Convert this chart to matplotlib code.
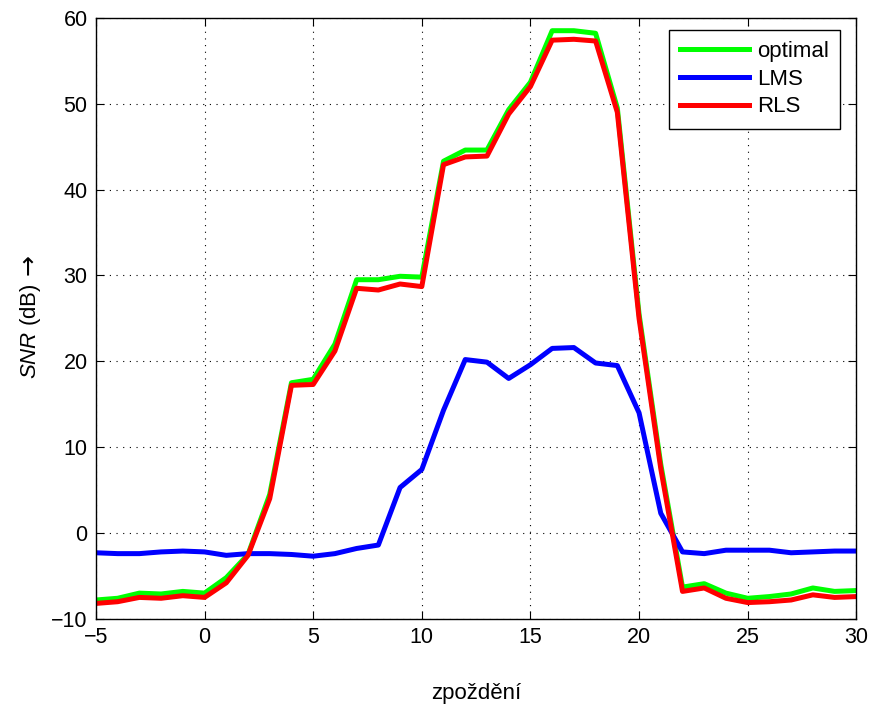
import matplotlib
matplotlib.use("Agg")
import matplotlib.pyplot as plt

delay = list(range(-5, 31))

snr_optimal = [-7.8, -7.6, -7.0, -7.1, -6.8, -7.0, -5.2, -2.5, 4.5, 17.5,
               17.9, 22.0, 29.5, 29.5, 29.9, 29.8, 43.3, 44.6, 44.6, 49.3,
               52.5, 58.5, 58.5, 58.2, 49.5, 25.5, 8.0, -6.3, -5.9, -7.0,
               -7.6, -7.4, -7.1, -6.4, -6.8, -6.7]
snr_lms = [-2.3, -2.4, -2.4, -2.2, -2.1, -2.2, -2.6, -2.4, -2.4, -2.5,
           -2.7, -2.4, -1.8, -1.4, 5.3, 7.4, 14.3, 20.2, 19.9, 18.0,
           19.6, 21.5, 21.6, 19.8, 19.5, 14.0, 2.3, -2.2, -2.4, -2.0,
           -2.0, -2.0, -2.3, -2.2, -2.1, -2.1]
snr_rls = [-8.2, -8.0, -7.5, -7.6, -7.3, -7.5, -5.8, -2.6, 4.0, 17.2,
           17.3, 21.2, 28.5, 28.3, 29.0, 28.7, 42.9, 43.8, 43.9, 48.8,
           52.0, 57.4, 57.5, 57.3, 49.0, 25.0, 7.5, -6.8, -6.4, -7.6,
           -8.1, -8.0, -7.8, -7.2, -7.5, -7.4]

plt.rcParams["font.family"] = ["Liberation Sans", "DejaVu Sans"]
plt.rcParams["mathtext.fontset"] = "custom"
plt.rcParams["mathtext.it"] = "Liberation Sans:italic"
plt.rcParams["mathtext.rm"] = "Liberation Sans"

fig = plt.figure(figsize=(8.72, 7.13), dpi=100)
ax = fig.add_axes([0.110, 0.132, 0.872, 0.843])

ax.plot(delay, snr_optimal, color="#00ff00", lw=3.6, label="optimal")
ax.plot(delay, snr_lms, color="#0000ff", lw=3.6, label="LMS")
ax.plot(delay, snr_rls, color="#ff0000", lw=3.6, label="RLS")

ax.set_xlim(-5, 30)
ax.set_ylim(-10, 60)
ax.set_xticks(range(-5, 31, 5))
ax.set_yticks(range(-10, 61, 10))
ax.grid(True, color="black", linestyle=(0, (1, 5)), linewidth=0.8)
ax.tick_params(direction="in", top=True, right=True, labelsize=15.5, length=6, pad=6)
for s in ax.spines.values():
    s.set_linewidth(1.0)

ax.set_xlabel("zpoždění", fontsize=16, labelpad=25)

# y label: italic SNR, then a long arrow drawn in DejaVu Sans
ax.set_ylabel(r"$SNR$ (dB)", fontsize=16)
ax.yaxis.set_label_coords(-0.070, 0.479)
ax.text(-0.089, 0.589, "→", fontsize=18, family="DejaVu Sans", rotation=90,
        transform=ax.transAxes, ha="center", va="center")

leg = ax.legend(loc="upper right", fontsize=16, fancybox=False, framealpha=1,
                edgecolor="black", handlelength=3.1, borderaxespad=0,
                labelspacing=0.3, handletextpad=0.35, borderpad=0.5)
leg.set_bbox_to_anchor((840 / 872, 1 - 30 / 713), transform=fig.transFigure)
leg.get_frame().set_linewidth(1.0)

fig.savefig("out.png", dpi=100)
